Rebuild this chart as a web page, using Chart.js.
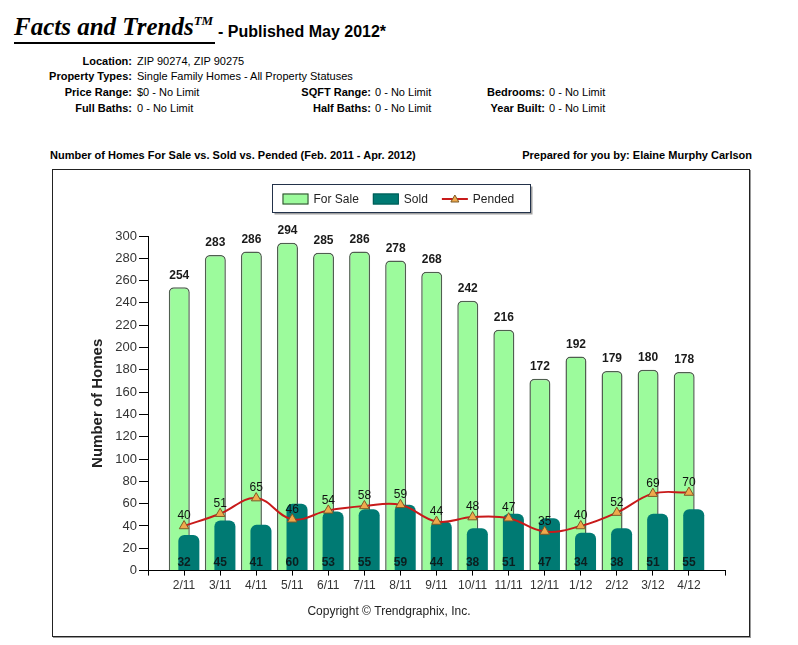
<!DOCTYPE html>
<html>
<head>
<meta charset="utf-8">
<script src="https://cdn.jsdelivr.net/npm/chart.js@4.4.1/dist/chart.umd.min.js"></script>
<style>
  body { margin: 0; background: #fff; font-family: "Liberation Sans", Arial, sans-serif; color: #000; }
  #page { position: relative; width: 798px; height: 645px; overflow: hidden; }
  .abs { position: absolute; white-space: nowrap; }
  .brand { left: 14px; top: 11px; font-family: "Liberation Serif", "Times New Roman", serif;
           font-weight: bold; font-style: italic; font-size: 25px; letter-spacing: 0;
           line-height: 31px; border-bottom: 2px solid #000; padding-right: 2px; }
  .brand sup { font-size: 13px; vertical-align: 10px; line-height: 0; }
  .pub { left: 218px; top: 22px; font-weight: bold; font-size: 16px; line-height: 20px; }
  .lab { font-weight: bold; font-size: 11px; line-height: 13px; text-align: right; }
  .val { font-size: 11px; line-height: 13px; }
  .cap { font-weight: bold; font-size: 11px; line-height: 13px; }
  #box { position: absolute; left: 52px; top: 169px; width: 696px; height: 466px;
         border: 1px solid #222; box-shadow: 1px 1px 0 #999; }
  canvas { display: block; }
</style>
</head>
<body>
<div id="page">
  <div class="abs brand">Facts and Trends<sup>TM</sup></div>
  <div class="abs pub">- Published May 2012*</div>

  <div class="abs lab" style="right:666px; top:55px;">Location:</div>
  <div class="abs val" style="left:137px; top:55px;">ZIP 90274, ZIP 90275</div>
  <div class="abs lab" style="right:666px; top:70px;">Property Types:</div>
  <div class="abs val" style="left:137px; top:70px;">Single Family Homes - All Property Statuses</div>

  <div class="abs lab" style="right:666px; top:86px;">Price Range:</div>
  <div class="abs val" style="left:137px; top:86px;">$0 - No Limit</div>
  <div class="abs lab" style="right:427px; top:86px;">SQFT Range:</div>
  <div class="abs val" style="left:375px; top:86px;">0 - No Limit</div>
  <div class="abs lab" style="right:253px; top:86px;">Bedrooms:</div>
  <div class="abs val" style="left:549px; top:86px;">0 - No Limit</div>

  <div class="abs lab" style="right:666px; top:102px;">Full Baths:</div>
  <div class="abs val" style="left:137px; top:102px;">0 - No Limit</div>
  <div class="abs lab" style="right:427px; top:102px;">Half Baths:</div>
  <div class="abs val" style="left:375px; top:102px;">0 - No Limit</div>
  <div class="abs lab" style="right:253px; top:102px;">Year Built:</div>
  <div class="abs val" style="left:549px; top:102px;">0 - No Limit</div>

  <div class="abs cap" style="left:50px; top:149px;">Number of Homes For Sale vs. Sold vs. Pended (Feb. 2011 - Apr. 2012)</div>
  <div class="abs cap" style="right:46px; top:149px;">Prepared for you by: Elaine Murphy Carlson</div>

  <div id="box"><canvas id="homesChart" width="696" height="466"></canvas></div>
</div>
<script>
const months = ['2/11', '3/11', '4/11', '5/11', '6/11', '7/11', '8/11', '9/11', '10/11', '11/11', '12/11', '1/12', '2/12', '3/12', '4/12'];
const forSale = [254, 283, 286, 294, 285, 286, 278, 268, 242, 216, 172, 192, 179, 180, 178];
const sold = [32, 45, 41, 60, 53, 55, 59, 44, 38, 51, 47, 34, 38, 51, 55];
const pended = [40, 51, 65, 46, 54, 58, 59, 44, 48, 47, 35, 40, 52, 69, 70];
const yMax = 300;
const yStep = 20;

const FONT = '"Liberation Sans", Arial, sans-serif';

// bars are drawn in dataset order (For Sale behind Sold), the line stays on top
const barOrder = {
    id: 'barOrder',
    beforeDatasetsDraw(chart) {
        chart.data.datasets.forEach((ds, i) => {
            const meta = chart.getDatasetMeta(i);
            if (meta.type === 'bar') {
                meta.controller.draw();
            }
        });
    },
    beforeDatasetDraw(chart, args) {
        if (args.meta.type === 'bar') {
            return false;
        }
    },
};

const valueLabels = {
    id: 'valueLabels',
    afterDatasetsDraw(chart) {
        const ctx = chart.ctx;
        const x = chart.scales.x;
        const y = chart.scales.y;
        ctx.save();
        ctx.textAlign = 'center';
        ctx.textBaseline = 'middle';

        ctx.font = 'bold 12px ' + FONT;
        ctx.fillStyle = '#1a1a1a';
        chart.getDatasetMeta(0).data.forEach((bar, i) => {
            ctx.fillText(forSale[i], bar.x, bar.y - 12);
        });

        ctx.fillStyle = '#0b1f1f';
        sold.forEach((v, i) => {
            ctx.fillText(v, x.getPixelForValue(i), y.bottom - 8);
        });

        ctx.font = '12px ' + FONT;
        ctx.fillStyle = '#111';
        chart.getDatasetMeta(2).data.forEach((pt, i) => {
            ctx.fillText(pended[i], pt.x, pt.y - 10);
        });
        ctx.restore();
    },
};

const legendBox = {
    id: 'legendBox',
    afterDraw(chart) {
        const ctx = chart.ctx;
        const sets = chart.data.datasets;
        const sw = 26, sh = 11, gapText = 5, gapItem = 14, padX = 10, boxH = 28;
        ctx.save();
        ctx.font = '12px ' + FONT;
        const widths = sets.map(d => sw + gapText + ctx.measureText(d.label).width);
        const inner = widths.reduce((a, b) => a + b, 0) + gapItem * (sets.length - 1);
        const boxW = Math.round(inner + padX * 2 + 6);
        const bx = Math.round(chart.width / 2 - boxW / 2) + 0.5;
        const by = 14.5;

        ctx.fillStyle = '#a0a0a0';
        ctx.fillRect(bx + 2, by + 2, boxW, boxH);
        ctx.fillStyle = '#fff';
        ctx.fillRect(bx, by, boxW, boxH);
        ctx.strokeStyle = '#23324a';
        ctx.lineWidth = 1;
        ctx.strokeRect(bx, by, boxW, boxH);

        let cx = bx + padX;
        const cy = Math.round(by + boxH / 2);
        sets.forEach((d, i) => {
            if (d.type === 'line') {
                ctx.strokeStyle = d.borderColor;
                ctx.lineWidth = 2;
                ctx.beginPath();
                ctx.moveTo(cx, cy);
                ctx.lineTo(cx + sw, cy);
                ctx.stroke();
                const tx = cx + sw / 2;
                ctx.beginPath();
                ctx.moveTo(tx, cy - 4);
                ctx.lineTo(tx + 4, cy + 3);
                ctx.lineTo(tx - 4, cy + 3);
                ctx.closePath();
                ctx.fillStyle = d.pointBackgroundColor;
                ctx.fill();
                ctx.strokeStyle = d.pointBorderColor;
                ctx.lineWidth = 1;
                ctx.stroke();
            } else {
                ctx.fillStyle = d.backgroundColor;
                ctx.fillRect(cx, cy - sh / 2, sw, sh);
                ctx.strokeStyle = d.legendBorder;
                ctx.lineWidth = 1;
                ctx.strokeRect(cx + 0.5, cy - sh / 2 + 0.5, sw - 1, sh - 1);
            }
            ctx.fillStyle = '#222';
            ctx.textAlign = 'left';
            ctx.textBaseline = 'middle';
            ctx.fillText(d.label, cx + sw + gapText, cy + 1);
            cx += widths[i] + gapItem;
        });
        ctx.restore();
    },
};

const ctx = document.getElementById('homesChart').getContext('2d');
new Chart(ctx, {
    type: 'bar',
    data: {
        labels: months.map((m, i) => i),
        datasets: [
            {
                label: 'For Sale',
                data: forSale,
                backgroundColor: '#9cfb9c',
                borderColor: '#4f5f4f',
                legendBorder: '#2f3f2f',
                borderWidth: 1.5,
                borderSkipped: 'bottom',
                borderRadius: { topLeft: 5, topRight: 5 },
                categoryPercentage: 0.53,
                barPercentage: 2.2,
            },
            {
                label: 'Sold',
                data: sold,
                backgroundColor: '#007a73',
                borderColor: '#007a73',
                legendBorder: '#005a55',
                borderWidth: 0,
                borderSkipped: 'bottom',
                borderRadius: { topLeft: 6, topRight: 6 },
                categoryPercentage: 0.53,
                barPercentage: 2.2,
            },
            {
                type: 'line',
                label: 'Pended',
                data: pended,
                borderColor: '#c81a1a',
                borderWidth: 2,
                tension: 0.4,
                fill: false,
                pointStyle: 'triangle',
                pointRadius: 5.5,
                pointBackgroundColor: '#f0a94c',
                pointBorderColor: '#7d5a28',
                pointBorderWidth: 1,
            },
        ],
    },
    options: {
        responsive: false,
        animation: false,
        layout: {
            padding: { top: 66, right: 24, bottom: 13, left: 0 },
        },
        plugins: {
            legend: { display: false },
            tooltip: { enabled: false },
            title: {
                display: true,
                position: 'bottom',
                text: 'Copyright \u00a9 Trendgraphix, Inc.',
                color: '#222',
                font: { family: FONT, size: 12, weight: 'normal' },
                padding: { top: 4, bottom: 4 },
            },
        },
        scales: {
            x: {
                type: 'linear',
                min: -1,
                max: months.length,
                offset: false,
                afterFit: (s) => { s.height = 30; },
                grid: {
                    offset: false,
                    drawOnChartArea: false,
                    tickLength: 5,
                    color: '#000',
                },
                border: { color: '#000', width: 1 },
                ticks: {
                    stepSize: 1,
                    autoSkip: false,
                    maxRotation: 0,
                    padding: 3,
                    color: '#333',
                    font: { family: FONT, size: 12 },
                    callback: (v) => months[v] || '',
                },
            },
            y: {
                min: 0,
                max: yMax,
                afterFit: (s) => { s.width = 95; },
                grid: {
                    drawOnChartArea: false,
                    tickLength: 9,
                    color: '#000',
                },
                border: { color: '#000', width: 1 },
                ticks: {
                    stepSize: yStep,
                    padding: 2,
                    color: '#333',
                    font: { family: FONT, size: 13 },
                },
                title: {
                    display: true,
                    text: 'Number of Homes',
                    color: '#222',
                    font: { family: FONT, size: 15, weight: 'bold' },
                    padding: { top: 36, bottom: 0 },
                },
            },
        },
    },
    plugins: [barOrder, valueLabels, legendBox],
});
</script>
</body>
</html>
